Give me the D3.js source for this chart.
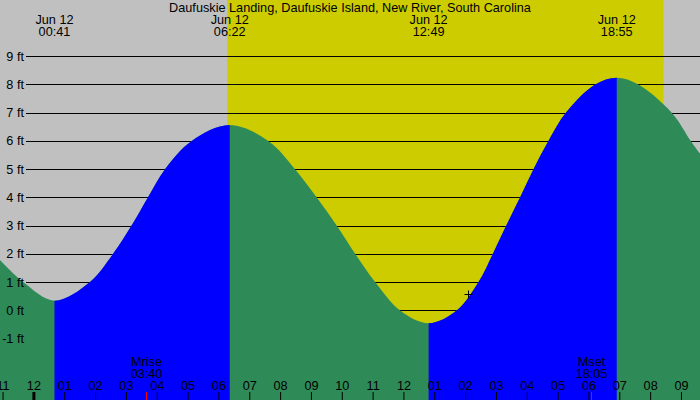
<!DOCTYPE html>
<html>
<head>
<meta charset="utf-8">
<script src="https://cdn.jsdelivr.net/npm/d3@7"></script>
<style>
  body { margin: 0; background: #fff; }
  svg { display: block; font-family: "Liberation Sans", Arial, sans-serif; }
</style>
</head>
<body>
<div class="chart"></div>
<script>
var width = 700;
var height = 400;
var fontSize = "12.7px";

var title = "Daufuskie Landing, Daufuskie Island, New River, South Carolina";

// tide curve
var tideTimes = [
  "Jun 11 22:55", "Jun 11 23:40", "Jun 12 00:41", "Jun 12 01:50", "Jun 12 02:35",
  "Jun 12 03:11", "Jun 12 03:43", "Jun 12 04:16", "Jun 12 05:08",
  "Jun 12 06:22", "Jun 12 07:37", "Jun 12 08:29", "Jun 12 09:11", "Jun 12 09:50",
  "Jun 12 10:26", "Jun 12 11:05", "Jun 12 11:53", "Jun 12 12:49", "Jun 12 13:44",
  "Jun 12 14:26", "Jun 12 14:54", "Jun 12 15:20", "Jun 12 15:47", "Jun 12 16:13",
  "Jun 12 16:42", "Jun 12 17:16", "Jun 12 18:13", "Jun 12 18:55", "Jun 12 19:37",
  "Jun 12 20:42", "Jun 12 21:19", "Jun 12 21:37"
];
var tideFeet = [
  1.78, 1.0, 0.34, 1.0, 2.0,
  3.0, 4.0, 5.0, 6.0,
  6.56, 6.0, 5.0, 4.0, 3.0,
  2.0, 1.0, 0.0, -0.46, 0.0,
  1.0, 2.0, 3.0, 4.0, 5.0,
  6.0, 7.0, 8.0, 8.24, 8.0,
  7.0, 6.0, 5.55
];

// high / low tides shown at the top
var extremeTimes = ["Jun 12 00:41", "Jun 12 06:22", "Jun 12 12:49", "Jun 12 18:55"];
var extremeKinds = ["low", "high", "low", "high"];

var sunTimes = ["Jun 12 06:17", "Jun 12 20:26"];
var moonLabels = ["Mrise", "Mset"];
var moonTimes = ["Jun 12 03:40", "Jun 12 18:05"];

var nowTime = "Jun 12 14:06";
var nowFeet = 0.57;

var feetTicks = [-1, 0, 1, 2, 3, 4, 5, 6, 7, 8, 9];
var xStart = "Jun 11 22:55";
var xEnd = "Jun 12 21:37";

var parse = d3.timeParse("%b %d %H:%M");
var data = tideTimes.map((t, i) => ({ t: parse(t), ft: tideFeet[i] }));

var svg = d3
  .select(".chart")
  .append("svg")
  .attr("width", width)
  .attr("height", height);

var xScale = d3.scaleTime().domain([parse(xStart), parse(xEnd)]).range([0, width]);
var yScale = d3.scaleLinear().domain([0, 9]).range([310.3, 56.2]);

// background: night grey, day yellow
svg.append("rect").attr("width", width).attr("height", height).attr("fill", "#c0c0c0");
svg
  .append("rect")
  .attr("x", xScale(parse(sunTimes[0])))
  .attr("width", xScale(parse(sunTimes[1])) - xScale(parse(sunTimes[0])))
  .attr("height", height)
  .attr("fill", "#cccc00");

// grid lines
svg
  .selectAll(".grid")
  .data(feetTicks)
  .enter()
  .append("line")
  .attr("x1", 26)
  .attr("x2", width)
  .attr("y1", (d) => Math.round(yScale(d)) + 0.5)
  .attr("y2", (d) => Math.round(yScale(d)) + 0.5)
  .attr("stroke", "#000");

// water: green falling, blue rising
var area = d3
  .area()
  .x((d) => xScale(d.t))
  .y0(height)
  .y1((d) => yScale(d.ft))
  .curve(d3.curveCatmullRom.alpha(0.5));

var clip = svg.append("defs").append("clipPath").attr("id", "rising");
extremeTimes.forEach(function (t, i) {
  if (extremeKinds[i] == "low") {
    var x0 = xScale(parse(t));
    var x1 = i + 1 < extremeTimes.length ? xScale(parse(extremeTimes[i + 1])) : width;
    clip.append("rect").attr("x", x0).attr("y", 0).attr("width", x1 - x0).attr("height", height);
  }
});

svg.append("path").datum(data).attr("d", area).attr("fill", "#2e8b57");
svg
  .append("path")
  .datum(data)
  .attr("d", area)
  .attr("fill", "#0000ff")
  .attr("clip-path", "url(#rising)");

// y labels
svg
  .selectAll(".ylab")
  .data(feetTicks)
  .enter()
  .append("text")
  .attr("x", 24)
  .attr("y", (d) => yScale(d))
  .attr("dy", "0.35em")
  .attr("text-anchor", "end")
  .style("font-size", fontSize)
  .text((d) => d + " ft");

// hour axis along the bottom
var xAxis = d3
  .axisTop(xScale)
  .ticks(d3.timeHour.every(1))
  .tickFormat(d3.timeFormat("%I"))
  .tickSize(8)
  .tickPadding(2);

var xAxisGroup = svg.append("g").attr("transform", "translate(0," + height + ")").call(xAxis);
xAxisGroup.select(".domain").remove();
xAxisGroup
  .selectAll("text")
  .style("font-size", fontSize)
  .attr("fill", "#000")
  .style("font-family", "Liberation Sans, Arial, sans-serif");
xAxisGroup
  .selectAll(".tick line")
  .attr("stroke", "#000")
  .attr("stroke-width", (d) => (d.getHours() == 0 ? 3 : 1));

// moon rise / set
moonTimes.forEach(function (t, i) {
  var x = Math.round(xScale(parse(t))) + 0.5;
  svg.append("line").attr("x1", x).attr("x2", x).attr("y1", 392).attr("y2", height).attr("stroke", "red");
  svg.append("text").attr("x", x).attr("y", 366).attr("text-anchor", "middle").style("font-size", fontSize).text(moonLabels[i]);
  svg.append("text").attr("x", x).attr("y", 378).attr("text-anchor", "middle").style("font-size", fontSize).text(t.slice(7));
});

// tide times at the top
extremeTimes.forEach(function (t) {
  var x = xScale(parse(t));
  svg.append("text").attr("x", x).attr("y", 24).attr("text-anchor", "middle").style("font-size", fontSize).text(t.slice(0, 6));
  svg.append("text").attr("x", x).attr("y", 36).attr("text-anchor", "middle").style("font-size", fontSize).text(t.slice(7));
});

svg
  .append("text")
  .attr("x", width / 2)
  .attr("y", 12)
  .attr("text-anchor", "middle")
  .style("font-size", fontSize)
  .text(title);

// current time marker
var nx = Math.round(xScale(parse(nowTime))) + 0.5;
var ny = Math.round(yScale(nowFeet)) + 0.5;
svg.append("line").attr("x1", nx - 4).attr("x2", nx + 4).attr("y1", ny).attr("y2", ny).attr("stroke", "#000");
svg.append("line").attr("x1", nx).attr("x2", nx).attr("y1", ny - 4).attr("y2", ny + 4).attr("stroke", "#000");
</script>
</body>
</html>
